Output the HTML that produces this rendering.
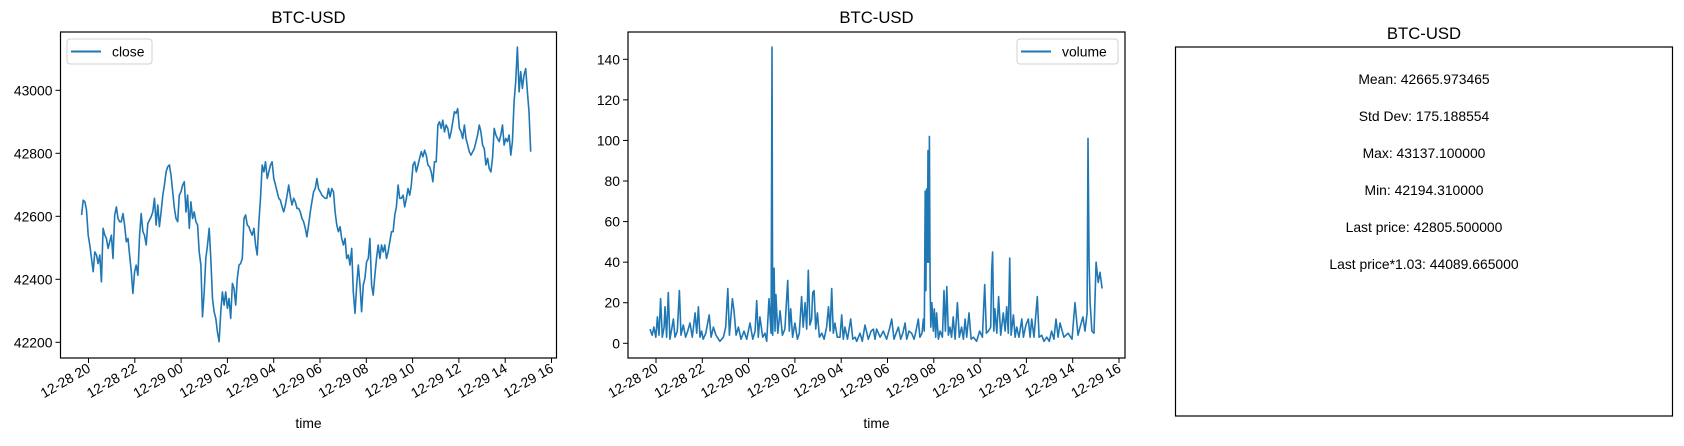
<!DOCTYPE html>
<html><head><meta charset="utf-8"><style>
html,body{margin:0;padding:0;background:#fff;}
svg{display:block;font-family:"Liberation Sans","DejaVu Sans",sans-serif;}
</style></head><body>
<svg id="svg" width="1684" height="446" viewBox="0 0 1684 446" xmlns="http://www.w3.org/2000/svg">
<rect width="1684" height="446" fill="#fff"/>
<g id="c1"></g>
<g id="c2"></g>
<g id="c3">
<text x="1424" y="39" text-anchor="middle" font-size="16.7">BTC-USD</text>
<rect x="1175.5" y="47" width="497" height="369" fill="none" stroke="#000" stroke-width="1.2"/>
<g font-size="13.9" text-anchor="middle">
<text x="1424" y="84">Mean: 42665.973465</text>
<text x="1424" y="121">Std Dev: 175.188554</text>
<text x="1424" y="158">Max: 43137.100000</text>
<text x="1424" y="195">Min: 42194.310000</text>
<text x="1424" y="232">Last price: 42805.500000</text>
<text x="1424" y="269">Last price*1.03: 44089.665000</text>
</g>
</g>
</svg>
<script>
const NS="http://www.w3.org/2000/svg";
const xTickHours=[20,22,24,26,28,30,32,34,36,38,40];
const xTickLabels=["12-28 20","12-28 22","12-29 00","12-29 02","12-29 04","12-29 06","12-29 08","12-29 10","12-29 12","12-29 14","12-29 16"];
const closeStart=19.70, closeEnd=39.10;
const closeVals=[42604,42651,42646,42620,42540,42509,42466,42424,42487,42477,42450,42477,42392,42562,42540,42530,42498,42519,42540,42466,42604,42630,42593,42583,42583,42609,42572,42519,42530,42477,42424,42355,42424,42445,42413,42540,42609,42551,42540,42509,42577,42588,42599,42614,42657,42572,42636,42567,42614,42667,42699,42741,42757,42763,42731,42678,42625,42593,42583,42667,42678,42699,42710,42614,42667,42562,42646,42593,42614,42583,42572,42487,42445,42281,42360,42466,42509,42562,42466,42339,42297,42276,42233,42202,42297,42360,42318,42360,42308,42339,42276,42387,42371,42318,42403,42445,42450,42466,42593,42604,42572,42567,42551,42540,42562,42509,42477,42583,42657,42763,42741,42773,42720,42741,42763,42773,42720,42699,42678,42657,42651,42630,42614,42636,42667,42699,42662,42636,42657,42646,42625,42625,42614,42593,42583,42562,42535,42572,42614,42646,42678,42688,42720,42688,42678,42667,42662,42657,42657,42688,42662,42688,42678,42614,42572,42551,42567,42530,42509,42530,42466,42477,42445,42498,42360,42292,42382,42445,42382,42297,42382,42403,42456,42466,42530,42382,42350,42413,42466,42509,42466,42509,42487,42509,42466,42487,42519,42551,42551,42604,42630,42699,42657,42657,42667,42630,42657,42688,42667,42699,42763,42773,42741,42763,42784,42805,42789,42810,42794,42763,42757,42741,42710,42773,42773,42890,42900,42879,42905,42868,42890,42879,42847,42868,42900,42932,42927,42942,42879,42868,42847,42890,42847,42826,42805,42794,42805,42815,42837,42858,42890,42868,42826,42815,42763,42784,42752,42741,42784,42879,42858,42847,42837,42858,42890,42826,42847,42837,42858,42794,42837,42964,43027,43137,42995,43059,43006,43048,43069,42995,42932,42805];
const closeTicks=[42200,42400,42600,42800,43000];
const volTimes=[19.74,19.83,19.91,19.99,20.06,20.13,20.20,20.27,20.35,20.39,20.46,20.53,20.60,20.68,20.75,20.82,20.92,21.01,21.08,21.18,21.28,21.37,21.47,21.57,21.69,21.76,21.83,21.90,21.97,22.04,22.15,22.30,22.38,22.48,22.59,22.76,22.91,23.01,23.10,23.17,23.30,23.37,23.46,23.56,23.67,23.80,23.92,24.06,24.18,24.28,24.35,24.42,24.49,24.61,24.71,24.78,24.88,24.97,25.01,25.04,25.10,25.14,25.18,25.26,25.36,25.46,25.57,25.69,25.76,25.82,25.90,26.00,26.11,26.19,26.29,26.36,26.44,26.51,26.58,26.65,26.72,26.77,26.83,26.90,26.97,27.06,27.16,27.26,27.37,27.45,27.52,27.59,27.66,27.73,27.83,27.95,28.02,28.09,28.16,28.27,28.41,28.50,28.60,28.67,28.81,28.91,29.03,29.17,29.29,29.39,29.46,29.53,29.68,29.82,29.96,30.08,30.18,30.28,30.37,30.47,30.57,30.66,30.76,30.83,30.93,31.04,31.15,31.23,31.33,31.40,31.49,31.55,31.59,31.63,31.66,31.69,31.72,31.75,31.78,31.81,31.84,31.87,31.92,31.98,32.02,32.08,32.12,32.20,32.27,32.37,32.44,32.50,32.56,32.63,32.70,32.77,32.84,32.92,33.02,33.10,33.20,33.28,33.35,33.42,33.52,33.61,33.71,33.85,33.98,34.10,34.20,34.27,34.36,34.46,34.50,34.54,34.59,34.64,34.72,34.80,34.89,35.00,35.08,35.15,35.22,35.28,35.34,35.44,35.51,35.58,35.68,35.80,35.87,35.98,36.08,36.16,36.23,36.33,36.47,36.55,36.66,36.76,36.88,36.99,37.09,37.19,37.28,37.37,37.45,37.62,37.80,37.97,38.10,38.23,38.32,38.44,38.53,38.62,38.66,38.71,38.75,38.83,38.92,39.01,39.10,39.18,39.27];
const volVals=[7,4,8,3,13,4,22,3,8,18,3,25,2,7,12,3,6,26,4,9,3,6,10,3,15,5,18,3,6,2,5,14,3,8,4,1,3,8,27,4,22,16,4,8,2,6,2,10,2,6,21,3,13,3,5,1,22,5,146,4,37,6,24,5,16,4,7,31,6,17,3,10,2,5,23,8,20,7,36,9,12,25,26,7,15,3,5,2,8,18,6,27,5,10,3,3,14,2,8,2,12,2,3,1,5,1,9,2,6,7,2,7,3,6,2,7,12,2,5,8,2,5,10,2,6,5,2,6,12,3,5,12,6,75,26,76,40,95,40,102,30,8,20,6,17,3,15,2,6,3,26,6,28,4,8,3,13,2,20,3,8,2,12,3,15,2,3,1,6,3,29,5,6,8,36,45,6,17,5,23,4,15,6,18,5,42,4,14,3,8,3,12,3,9,12,3,12,3,23,3,4,1,3,1,6,2,12,3,10,3,5,2,20,4,8,13,6,15,101,40,20,6,5,40,30,35,27];
const volTicks=[0,20,40,60,80,100,120,140];

function el(tag,attrs,parent,txt){const e=document.createElementNS(NS,tag);for(const k in attrs)e.setAttribute(k,attrs[k]);if(txt!==undefined)e.textContent=txt;parent.appendChild(e);return e;}

function drawAxes(g,L,R,T,B,xs,ys,yTicks,title,legend,legX){
  el('text',{x:(L+R)/2,y:23,'text-anchor':'middle','font-size':16.7},g,title);
  yTicks.forEach(v=>{const y=ys(v);
    el('line',{x1:L-5,x2:L,y1:y,y2:y,stroke:'#000','stroke-width':1},g);
    const t=el('text',{x:L-8,y:y+5,'text-anchor':'end','font-size':13.9},g,String(v));
    
    
  });
  xTickHours.forEach((h,i)=>{const x=xs(h);
    el('line',{x1:x,x2:x,y1:B,y2:B+5,stroke:'#000','stroke-width':1},g);
    const t=el('text',{x:0,y:0,'text-anchor':'end','font-size':13.9,transform:`translate(${x+3},${B+13}) rotate(-30)`},g,xTickLabels[i]);
    
    
  });
  const xt=el('text',{x:(L+R)/2,y:428,'text-anchor':'middle','font-size':13.9},g,'time');
  
  
  el('rect',{x:L,y:T,width:R-L,height:B-T,fill:'none',stroke:'#000','stroke-width':1.2},g);
  const lg=el('g',{},g);
  
  
  const w=legend==='close'?85:101;
  el('rect',{x:legX,y:39,width:w,height:25,rx:3,fill:'#fff','fill-opacity':0.8,stroke:'#d0d0d0','stroke-width':1},lg);
  el('line',{x1:legX+4,x2:legX+34,y1:51.5,y2:51.5,stroke:'#1f77b4','stroke-width':2},lg);
  el('text',{x:legX+45,y:56.5,'font-size':13.9},lg,legend);
}

// chart 1
(function(){
  const g=document.getElementById('c1');
  const L=60.5,R=556.5,T=32,B=358;
  const xs=h=>88.5+(h-20)*23.15;
  const ys=v=>342.3-(v-42200)*0.315;
  const n=closeVals.length;
  let d='';
  closeVals.forEach((v,i)=>{const h=closeStart+(closeEnd-closeStart)*i/(n-1);d+=(i?'L':'M')+xs(h).toFixed(1)+','+ys(v).toFixed(1);});
  const p=el('path',{d:d,fill:'none',stroke:'#1f77b4','stroke-width':1.6,'stroke-linejoin':'round'},g);
  
  
  drawAxes(g,L,R,T,B,xs,ys,closeTicks,'BTC-USD','close',67);
})();
// chart 2
(function(){
  const g=document.getElementById('c2');
  const L=628,R=1125,T=32,B=358;
  const xs=h=>656+(h-20)*23.15;
  const ys=v=>343.3-v*2.0286;
  let d='';
  volVals.forEach((v,i)=>{d+=(i?'L':'M')+xs(volTimes[i]).toFixed(1)+','+ys(v).toFixed(1);});
  const p=el('path',{d:d,fill:'none',stroke:'#1f77b4','stroke-width':1.6,'stroke-linejoin':'round'},g);
  
  
  drawAxes(g,L,R,T,B,xs,ys,volTicks,'BTC-USD','volume',1017);
})();
</script>
</body></html>
